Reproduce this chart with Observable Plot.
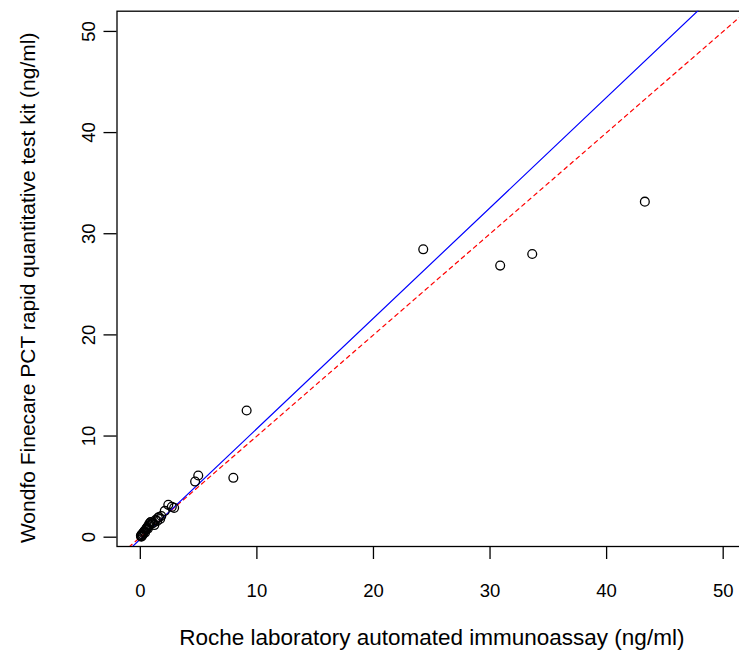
<!DOCTYPE html>
<html>
<head>
<meta charset="utf-8">
<script src="https://cdn.jsdelivr.net/npm/d3@7"></script>
<script src="https://cdn.jsdelivr.net/npm/@observablehq/plot@0.6"></script>
<style>
  html, body { margin: 0; padding: 0; background: #fff; }
  #chart { width: 739px; height: 654px; overflow: hidden; }
  svg { font-family: "Liberation Sans", Arial, sans-serif; }
</style>
</head>
<body>
<div id="chart"></div>
<script>
// Roche laboratory automated immunoassay (ng/ml)
const roche = [0.05, 0.08, 0.10, 0.12, 0.15, 0.20, 0.25, 0.30, 0.35, 0.40, 0.45, 0.50, 0.55, 0.60, 0.65,
  0.70, 0.75, 0.80, 0.85, 0.90, 1.00, 1.10, 1.20, 1.30, 1.45, 1.50, 1.60, 1.70, 1.80, 2.10, 2.40, 2.70, 2.90,
  4.70, 4.97, 7.98, 9.12, 24.27, 30.87, 33.62, 43.28];
// Wondfo Finecare PCT rapid quantitative test kit (ng/ml)
const wondfo = [0.15, 0.05, 0.20, 0.10, 0.30, 0.25, 0.40, 0.50, 0.60, 0.45, 0.70, 0.80, 0.90, 1.00, 0.85,
  1.10, 1.30, 1.20, 1.45, 1.50, 1.35, 1.40, 1.20, 1.70, 1.60, 1.90, 2.00, 1.80, 2.10, 2.60, 3.20, 3.00, 2.90,
  5.50, 6.10, 5.87, 12.52, 28.46, 26.85, 28.00, 33.17];
// fitted regression line (blue) and identity line (red dashed)
const fitIntercept = -0.19;
const fitSlope = 1.092;
const identityIntercept = 0;
const identitySlope = 1;
const xTicks = [0, 10, 20, 30, 40, 50];
const yTicks = [0, 10, 20, 30, 40, 50];
const xLabel = "Roche laboratory automated immunoassay (ng/ml)";
const yLabel = "Wondfo Finecare PCT rapid quantitative test kit (ng/ml)";

const xDomain = [-2, 52];
const yDomain = [-0.92, 52];

const points = roche.map((x, i) => ({x, y: wondfo[i]}));
const lineFrom = (a, b) => xDomain.map(x => ({x, y: a + b * x}));
const fitLine = lineFrom(fitIntercept, fitSlope);
const idLine = lineFrom(identityIntercept, identitySlope);

const fs = 18.5;
const chart = Plot.plot({
  width: 739,
  height: 654,
  marginLeft: 116.5,
  marginRight: -7,
  marginTop: 10.7,
  marginBottom: 108,
  style: {fontFamily: "'Liberation Sans', Arial, sans-serif", fontSize: fs + "px", background: "#fff", color: "#000"},
  x: {domain: xDomain},
  y: {domain: yDomain},
  marks: [
    Plot.frame({stroke: "#000", strokeWidth: 1.3}),
    Plot.line(idLine, {x: "x", y: "y", stroke: "#ff0000", strokeWidth: 1.2, strokeDasharray: "4,4", clip: true}),
    Plot.line(fitLine, {x: "x", y: "y", stroke: "#0000ff", strokeWidth: 1.2, clip: true}),
    Plot.dot(points, {x: "x", y: "y", r: 4.4, stroke: "#000", strokeWidth: 1.3, fill: "none"}),
    Plot.axisX({ticks: xTicks, tickSize: 13, tickPadding: 24, label: null, fontSize: fs, strokeWidth: 1.3}),
    Plot.axisY({ticks: yTicks, tickSize: 13, tickPadding: 9, tickRotate: -90, label: null, fontSize: fs, strokeWidth: 1.3}),
    Plot.text([xLabel], {text: d => d, frameAnchor: "bottom", dy: 91, lineAnchor: "middle", textAnchor: "middle", fontSize: 22.5}),
    Plot.text([yLabel], {text: d => d, frameAnchor: "left", rotate: -90, dx: -89, dy: 9, lineAnchor: "middle", textAnchor: "middle", fontSize: 21})
  ]
});
document.getElementById("chart").appendChild(chart);
</script>
</body>
</html>
